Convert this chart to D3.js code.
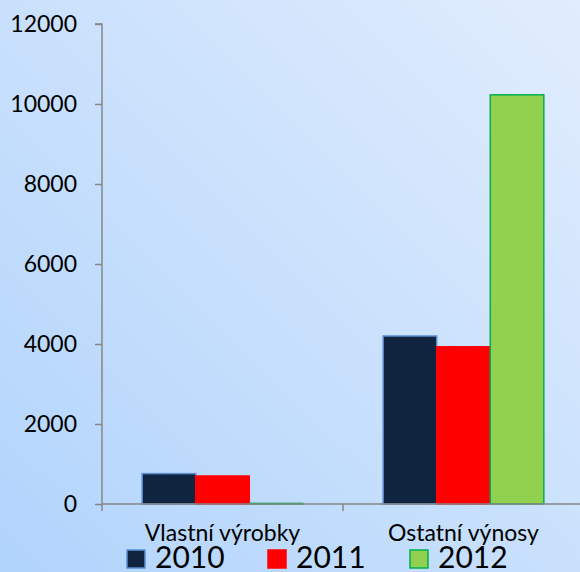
<!DOCTYPE html>
<html><head><meta charset="utf-8">
<script src="https://cdn.jsdelivr.net/npm/d3@7"></script>
<style>html,body{margin:0;padding:0;overflow:hidden;}svg{display:block;}</style>
</head><body>
<script>
const categories = ["Vlastní výrobky", "Ostatní výnosy"];
const years = ["2010", "2011", "2012"];
const values2010 = [760, 4200];
const values2011 = [700, 3930];
const values2012 = [15, 10230];
const yTicks = [0, 2000, 4000, 6000, 8000, 10000, 12000];

const W = 580, H = 572;
const fills = ["#10243f", "#ff0000", "#92d050"];
const strokes = ["#5b8ed6", "#ff0000", "#00b050"];
const series = [values2010, values2011, values2012];
const FONT = "Lato, 'Open Sans', sans-serif";

const svg = d3.select("body").append("svg").attr("width", W).attr("height", H);
const defs = svg.append("defs");
const grad = defs.append("linearGradient").attr("id", "bg")
  .attr("x1", "0%").attr("y1", "100%").attr("x2", "100%").attr("y2", "0%");
grad.append("stop").attr("offset", "0%").attr("stop-color", "#b1d4fc");
grad.append("stop").attr("offset", "100%").attr("stop-color", "#e1edfd");
svg.append("rect").attr("width", W).attr("height", H).attr("fill", "url(#bg)");

const x0 = 102, x1 = 584;
const y = d3.scaleLinear().domain([0, 12000]).range([504, 24]);
const x = d3.scaleBand().domain(categories).range([x0, x1]).paddingInner(0).paddingOuter(0);
const xs = d3.scaleBand().domain(years).range([0, x.bandwidth()]).paddingInner(0).paddingOuter(0.75);

// bars
categories.forEach((c, ci) => {
  years.forEach((yr, si) => {
    const v = series[si][ci];
    svg.append("rect")
      .attr("x", x(c) + xs(yr))
      .attr("y", y(v))
      .attr("width", xs.bandwidth())
      .attr("height", Math.max(0, y(0) - y(v)))
      .attr("fill", fills[si])
      .attr("stroke", strokes[si])
      .attr("stroke-width", 1.5);
  });
});

// y axis
const yAxis = svg.append("g").attr("transform", `translate(${x0},0)`)
  .call(d3.axisLeft(y).tickValues(yTicks).tickSize(7).tickPadding(18).tickFormat(d3.format("d")));
yAxis.select(".domain").attr("stroke", "#868686").attr("stroke-width", 1.5).attr("d", `M-7,${y(12000)}H0V${y(0)}`);
yAxis.selectAll(".tick line").attr("stroke", "#868686").attr("stroke-width", 1.5);
yAxis.selectAll(".tick text").attr("font-family", FONT).attr("font-size", 23).attr("fill", "#000");

// x axis
const xAxisG = svg.append("g").attr("transform", `translate(0,${y(0)})`);
xAxisG.append("line").attr("x1", x0).attr("x2", x1).attr("stroke", "#868686").attr("stroke-width", 1.5);
[x0, x0 + x.bandwidth(), x1].forEach(t => {
  xAxisG.append("line").attr("x1", t).attr("x2", t).attr("y1", 0).attr("y2", 7).attr("stroke", "#868686").attr("stroke-width", 1.5);
});
categories.forEach(c => {
  xAxisG.append("text").attr("x", x(c) + x.bandwidth() / 2).attr("y", 37)
    .attr("text-anchor", "middle").attr("font-family", FONT)
    .attr("font-size", 23).attr("fill", "#000").text(c);
});

// legend
const legX = [127, 268, 410];
years.forEach((yr, i) => {
  svg.append("rect").attr("x", legX[i]).attr("y", 550).attr("width", 18).attr("height", 18)
    .attr("fill", fills[i]).attr("stroke", strokes[i]).attr("stroke-width", 1.5);
  svg.append("text").attr("x", legX[i] + 28).attr("y", 568)
    .attr("font-family", FONT).attr("font-size", 30).attr("fill", "#000").text(yr);
});
</script>
</body></html>
